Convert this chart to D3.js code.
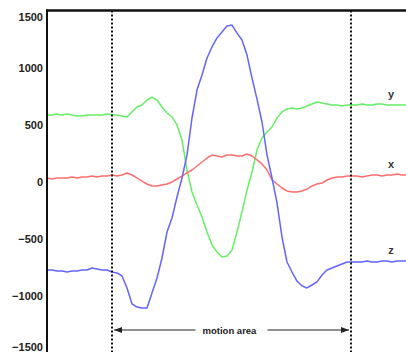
<!DOCTYPE html>
<html>
<head>
<meta charset="utf-8">
<script src="https://cdn.jsdelivr.net/npm/d3@7"></script>
<style>
  html, body { margin: 0; padding: 0; background: #fff; }
  svg { display: block; }
  .tick text { font-family: "Liberation Sans", Arial, sans-serif; font-weight: bold; font-size: 11px; fill: #222; }
</style>
</head>
<body>
<svg id="chart" width="406" height="352"></svg>
<script>
// samples every 5 steps, t = 0..360
const step = 5;
const yValues = [583, 583, 592, 583, 592, 583, 574, 574, 583, 583, 583, 583, 592, 583, 583, 574, 566, 610, 653, 671,
  715, 741, 715, 653, 601, 566, 496, 364, 101, -92, -206, -311, -443, -557, -618, -662, -653, -601, -443, -267,
  -75, 83, 276, 382, 434, 478, 557, 610, 636, 645, 636, 645, 662, 680, 697, 688, 680, 671, 671, 662,
  671, 671, 671, 680, 671, 671, 680, 680, 671, 671, 671, 671, 671];
const xValues = [31, 22, 31, 31, 31, 39, 31, 39, 39, 48, 39, 48, 48, 57, 48, 57, 75, 57, 31, 4,
  -22, -39, -39, -31, -22, -4, 22, 48, 75, 101, 136, 171, 206, 232, 224, 215, 232, 232, 224, 224,
  241, 224, 189, 154, 101, 13, -22, -57, -83, -92, -92, -83, -66, -39, -22, -13, 13, 31, 39, 39,
  48, 48, 48, 39, 48, 57, 57, 48, 57, 57, 66, 57, 57];
const zValues = [-776, -776, -785, -785, -794, -785, -785, -776, -776, -759, -767, -776, -776, -794, -802, -829, -934, -1074, -1101, -1109,
  -1109, -978, -846, -671, -443, -320, -136, 31, 233, 557, 802, 934, 1083, 1180, 1259, 1311, 1364, 1372, 1302, 1241,
  1109, 908, 723, 522, 233, 31, -188, -487, -706, -794, -873, -916, -934, -908, -881, -820, -776, -759, -741, -724,
  -706, -706, -706, -706, -697, -706, -706, -697, -697, -706, -697, -697, -697];
const yTicks = [-1500, -1000, -500, 0, 500, 1000, 1500];
const motionStart = 65, motionEnd = 304;
const motionLabel = "motion area";

const series = [
  { name: "y", values: yValues, color: "#66ee66" },
  { name: "x", values: xValues, color: "#ff6e6e" },
  { name: "z", values: zValues, color: "#6464ff" }
];

const svg = d3.select("#chart");
const mLeft = 47, mTop = 10.5, mRight = 407, mBottom = 352.5;

const x = d3.scaleLinear().domain([0, 360]).range([mLeft, mRight]);
const y = d3.scaleLinear().domain([-1500, 1500]).range([mBottom, mTop]);

// series lines
const line = d3.line()
  .x((d, i) => x(i * step))
  .y(d => y(d))
  .curve(d3.curveLinear);

for (let s of series) {
  svg.append("path")
    .datum(s.values)
    .attr("fill", "none")
    .attr("stroke", s.color)
    .attr("stroke-width", 1.5)
    .attr("stroke-linejoin", "round")
    .attr("d", line);

  let last = s.values[s.values.length - 1];
  svg.append("text")
    .attr("x", 391)
    .attr("y", y(last) - 7)
    .attr("text-anchor", "middle")
    .style("font-family", "Liberation Sans, Arial, sans-serif")
    .style("font-weight", "bold")
    .style("font-size", "11px")
    .style("fill", "#333")
    .text(s.name);
}

// dotted markers for the motion area
for (let t of [motionStart, motionEnd]) {
  svg.append("line")
    .attr("x1", x(t)).attr("x2", x(t))
    .attr("y1", mTop).attr("y2", mBottom)
    .attr("stroke", "#111")
    .attr("stroke-width", 2)
    .attr("stroke-dasharray", "2,2");
}

// arrow with label
const defs = svg.append("defs");
defs.append("marker")
  .attr("id", "arrow")
  .attr("viewBox", "0 0 8 6")
  .attr("refX", 8).attr("refY", 3)
  .attr("markerWidth", 8).attr("markerHeight", 6)
  .attr("markerUnits", "userSpaceOnUse")
  .attr("orient", "auto")
  .append("path")
  .attr("d", "M0,0L8,3L0,6Z")
  .attr("fill", "#222");

const arrowY = 330;
const mid = (x(motionStart) + x(motionEnd)) / 2;
svg.append("line")
  .attr("x1", mid - 36).attr("x2", x(motionStart) + 2)
  .attr("y1", arrowY).attr("y2", arrowY)
  .attr("stroke", "#222").attr("stroke-width", 1)
  .attr("marker-end", "url(#arrow)");
svg.append("line")
  .attr("x1", mid + 36).attr("x2", x(motionEnd) - 2)
  .attr("y1", arrowY).attr("y2", arrowY)
  .attr("stroke", "#222").attr("stroke-width", 1)
  .attr("marker-end", "url(#arrow)");
svg.append("text")
  .attr("x", mid - 2)
  .attr("y", arrowY + 3.5)
  .attr("text-anchor", "middle")
  .style("font-family", "Liberation Sans, Arial, sans-serif")
  .style("font-weight", "bold")
  .style("font-size", "9.5px")
  .style("fill", "#222")
  .text(motionLabel);

// y axis
const yAxis = d3.axisLeft(y).tickValues(yTicks).tickSize(0).tickPadding(4).tickFormat(d3.format("d"));
const ga = svg.append("g").attr("transform", "translate(" + mLeft + ",0)").call(yAxis);
ga.select(".domain").remove();
ga.selectAll(".tick text")
  .attr("dy", d => d === 1500 ? "0.9em" : d === -1500 ? "-0.2em" : "0.32em");

// frame: left axis and top rule
svg.append("line")
  .attr("x1", mLeft).attr("x2", mLeft)
  .attr("y1", mTop - 1).attr("y2", 352)
  .attr("stroke", "#111").attr("stroke-width", 2);
svg.append("line")
  .attr("x1", mLeft - 1).attr("x2", 406)
  .attr("y1", mTop).attr("y2", mTop)
  .attr("stroke", "#111").attr("stroke-width", 2.5);
</script>
</body>
</html>
